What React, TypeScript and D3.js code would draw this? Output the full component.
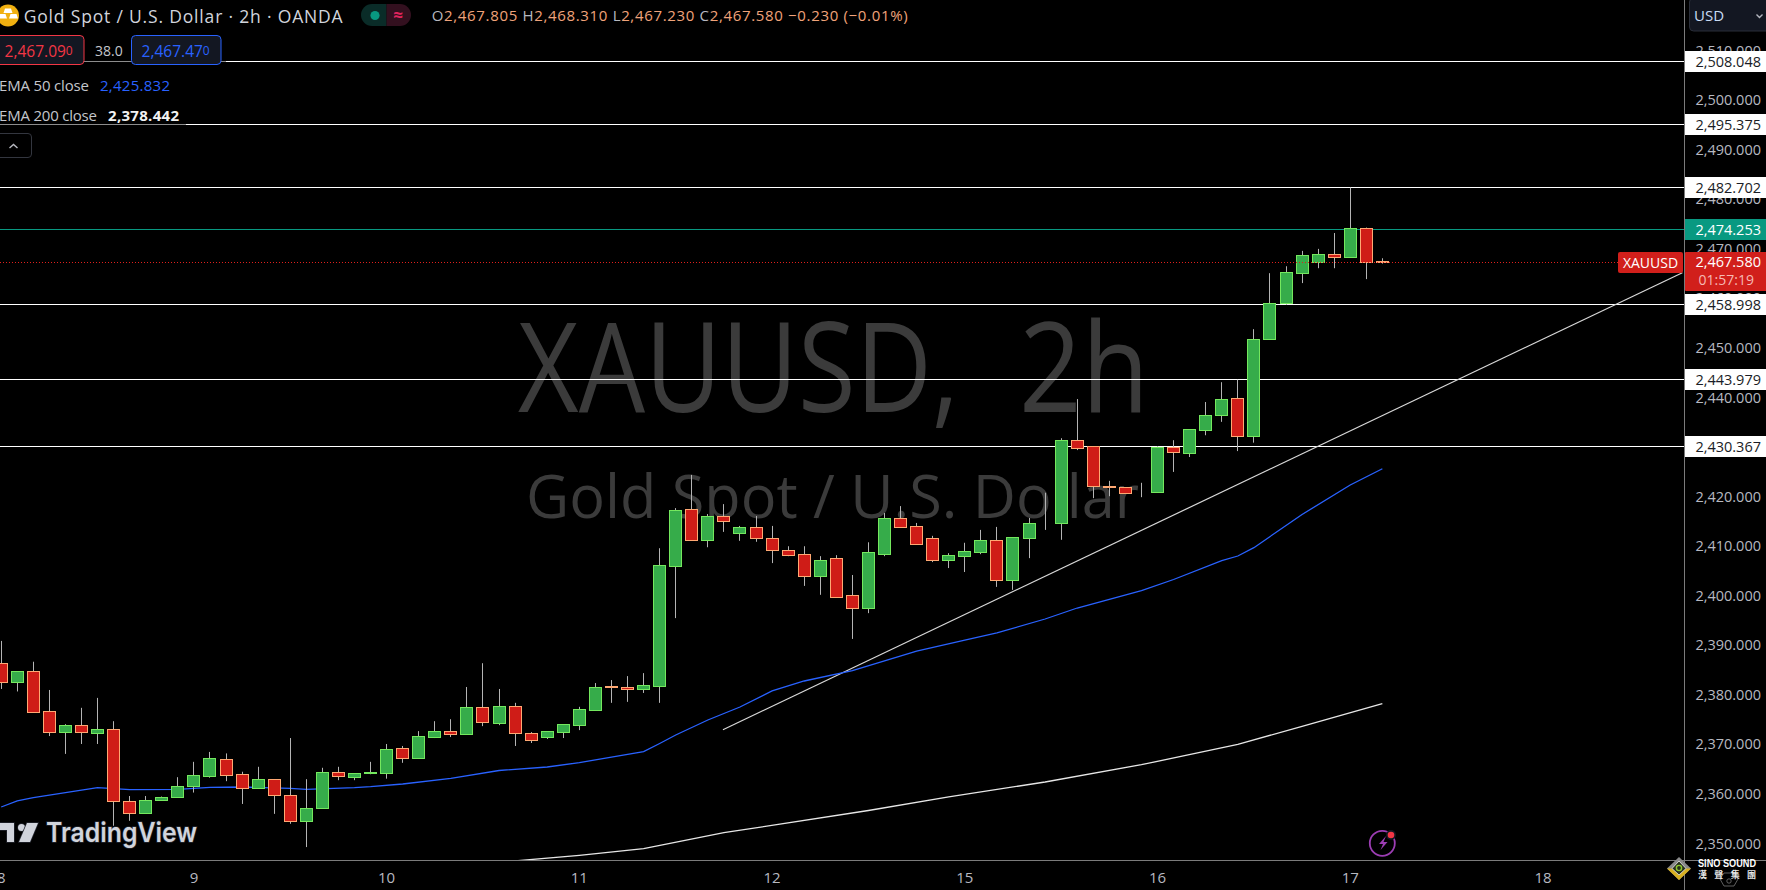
import React from "react";
import * as d3 from "d3";

const opens = [2386.6,2382.9,2385.0,2376.9,2372.8,2374.1,2372.6,2373.3,2358.7,2356.4,2358.9,2359.7,2361.9,2363.9,2367.2,2364.2,2361.5,2363.2,2360.1,2354.8,2357.4,2364.6,2363.7,2364.4,2364.5,2369.4,2367.5,2371.8,2372.9,2372.4,2377.7,2374.6,2377.9,2372.5,2371.8,2372.8,2374.2,2377.2,2382.0,2381.7,2381.3,2382.1,2406.3,2417.8,2411.5,2416.4,2412.9,2414.0,2411.8,2409.4,2408.6,2404.1,2407.8,2400.3,2397.8,2408.7,2415.8,2414.2,2411.8,2407.5,2408.3,2409.1,2411.4,2403.3,2411.9,2414.8,2414.8,2431.6,2430.4,2422.3,2422.1,2421.1,2421.2,2430.2,2429.1,2433.7,2436.6,2440.2,2432.5,2452.1,2459.2,2465.4,2467.6,2469.1,2468.6,2474.5,2467.805];
const highs = [2391.1,2385.0,2386.9,2381.2,2374.3,2377.6,2379.6,2374.9,2359.8,2359.8,2359.7,2363.6,2366.7,2368.7,2368.4,2364.7,2365.7,2363.2,2371.5,2363.2,2365.5,2365.7,2364.4,2366.7,2370.3,2369.9,2372.9,2374.9,2375.3,2381.8,2386.6,2381.4,2378.6,2372.7,2372.9,2374.3,2377.8,2382.6,2383.2,2384.0,2384.6,2409.8,2417.9,2424.6,2416.7,2418.7,2414.3,2416.3,2414.3,2410.2,2410.2,2408.2,2408.4,2404.4,2411.0,2416.9,2418.3,2414.9,2412.3,2408.8,2410.9,2413.5,2414.1,2412.0,2415.9,2421.0,2432.0,2439.9,2430.4,2423.4,2422.1,2423.0,2430.4,2431.6,2433.8,2439.3,2443.3,2443.8,2454.0,2465.3,2466.7,2469.8,2470.2,2473.4,2482.6,2474.5,2468.31];
const lows = [2381.4,2380.9,2376.8,2371.9,2368.3,2370.3,2370.3,2353.8,2354.8,2356.2,2358.9,2359.7,2360.5,2363.5,2362.8,2358.2,2361.5,2356.2,2354.2,2349.5,2357.4,2363.0,2363.0,2364.2,2363.3,2366.5,2367.3,2371.5,2371.7,2372.4,2373.9,2374.1,2369.9,2370.5,2371.3,2371.5,2373.1,2377.0,2378.6,2378.8,2380.6,2378.6,2395.7,2411.5,2410.0,2413.1,2411.3,2411.1,2406.8,2408.2,2402.2,2400.4,2400.0,2391.5,2396.7,2408.2,2413.9,2410.7,2407.0,2405.8,2405.0,2408.6,2402.0,2401.4,2407.8,2413.5,2411.5,2429.6,2419.9,2420.3,2421.0,2420.1,2421.2,2425.2,2428.2,2432.6,2435.3,2429.4,2431.1,2452.1,2458.9,2463.3,2466.3,2466.3,2468.6,2464.1,2467.23];
const closes = [2382.9,2385.0,2376.8,2372.8,2374.1,2372.8,2373.3,2358.7,2356.4,2359.1,2359.7,2361.8,2364.0,2367.4,2364.1,2361.5,2363.2,2360.1,2354.8,2357.3,2364.6,2363.9,2364.4,2364.6,2369.2,2367.5,2371.9,2372.9,2372.4,2377.7,2374.8,2377.9,2372.6,2371.2,2372.9,2374.3,2377.3,2381.9,2381.9,2381.3,2382.3,2406.4,2417.6,2411.5,2416.4,2415.2,2414.0,2411.9,2409.5,2408.5,2404.1,2407.4,2400.0,2397.8,2409.0,2415.8,2414.1,2410.7,2407.5,2408.4,2409.2,2411.4,2403.3,2412.0,2414.8,2414.9,2431.6,2430.1,2422.4,2422.2,2421.0,2421.2,2430.2,2429.3,2433.8,2436.6,2440.0,2432.5,2452.1,2459.2,2465.5,2468.9,2469.1,2468.6,2474.5,2467.6,2467.58];

const ema50Bars = [0,1,2,6,8,11,13,15,18,19,22,23,25,28,31,34,36,40,41,42,44,46,48,50,53,57,60,62,65,67,71,73,76,77,78,81,84,86];
const ema50Values = [2357.59,2358.8,2359.46,2361.48,2361.08,2361.16,2361.56,2361.62,2361.36,2361.16,2361.48,2361.68,2362.23,2363.38,2364.95,2365.66,2366.52,2368.75,2370.4,2372.12,2375.14,2377.76,2381.0,2383.01,2385.09,2389.06,2391.28,2392.7,2395.52,2397.74,2401.23,2403.49,2407.32,2408.23,2409.91,2416.61,2422.56,2425.832];
const ema200Bars = [32,36,40,45,54,59,65,71,77,81,86];
const ema200Values = [2346.71,2347.84,2349.17,2352.4,2356.88,2359.63,2362.63,2366.12,2370.22,2373.87,2378.442];
const trendBars = [44.94,104.68];
const trendValues = [2373.18,2465.4];

const priceTicks = [2510,2500,2490,2480,2470,2460,2450,2440,2430,2420,2410,2400,2390,2380,2370,2360,2350];
const whiteLevels = [2508.048,2495.375,2482.702,2458.998,2443.979,2430.367];
const tealLevel = 2474.253;
const lastPrice = 2467.58;
const dayLabels = ["8","9","10","11","12","15","16","17","18"];
const dayBars = [0,12,24,36,48,60,72,84,96];

const W = 1766, H = 890, AX = 1684.5, TY = 860.5;
const y = d3.scaleLinear().domain([2350, 2500]).range([844.6, 101.2]);
const x = d3.scaleLinear().domain([0, 12]).range([1.2, 193.92]);
const fmt = d3.format(",.3f");
const F = "'Open Sans', 'Noto Sans', sans-serif";
const line = d3.line<[number, number]>().x(d => x(d[0])).y(d => y(d[1]));
const ema50Path = line(ema50Bars.map((b, i) => [b, ema50Values[i]]))!;
const ema200Path = line(ema200Bars.map((b, i) => [b, ema200Values[i]]))!;
const trendPath = line(trendBars.map((b, i) => [b, trendValues[i]]))!;
const snap = (v: number) => Math.round(v - 0.5) + 0.5;
const snapY = (v: number) => Math.round(v) + 0.5;

function T(p: any) {
  const { children, ...r } = p;
  return <text fontFamily={F} {...r}>{children}</text>;
}

export default function App() {
  return (
    <svg width={W} height={H} viewBox={`0 0 ${W} ${H}`} style={{ position: "fixed", left: 0, top: 0, background: "#000" }}>
      <defs>
        <clipPath id="plot"><rect x={0} y={0} width={AX} height={TY} /></clipPath>
      </defs>
      <rect width={W} height={H} fill="#000" />

      {/* watermark */}
      <T x={518} y={412} fontSize={125} fill="#3b3b3b" textLength={441} lengthAdjust="spacingAndGlyphs">XAUUSD,</T>
      <T x={1019} y={412} fontSize={125} fill="#3b3b3b" textLength={130} lengthAdjust="spacingAndGlyphs">2h</T>
      <T x={526} y={518} fontSize={60} fill="#3b3b3b" textLength={613} lengthAdjust="spacingAndGlyphs">Gold Spot / U.S. Dollar</T>

      <g clipPath="url(#plot)">
        {/* horizontal levels */}
        {whiteLevels.map(l => (
          <line key={l} x1={0} x2={AX} y1={snapY(y(l))} y2={snapY(y(l))} stroke="#fff" strokeWidth={1.2} />
        ))}
        <line x1={0} x2={AX} y1={snapY(y(tealLevel))} y2={snapY(y(tealLevel))} stroke="#089981" strokeWidth={1} />
        <path d={trendPath} fill="none" stroke="#d8d8d8" strokeWidth={1.2} />
        <path d={ema50Path} fill="none" stroke="#2962ff" strokeWidth={1.3} />
        <path d={ema200Path} fill="none" stroke="#e6e6e6" strokeWidth={1.3} />

        {/* candles */}
        {closes.map((c, i) => {
          const o = opens[i];
          const up = c >= o;
          const cx = snap(x(i));
          const top = Math.round(y(Math.max(o, c))) + 0.5;
          const bot = Math.round(y(Math.min(o, c))) + 0.5;
          return (
            <g key={i}>
              <line x1={cx} x2={cx} y1={y(highs[i])} y2={y(lows[i])} stroke="#b4b4b4" strokeWidth={1} />
              <rect x={cx - 6} y={top} width={12} height={Math.max(bot - top, 0)}
                fill={up ? "#36ac4a" : "#cf1c17"} stroke={up ? "#74e85e" : "#ffa873"} strokeWidth={1} />
            </g>
          );
        })}
        <line x1={0} x2={1618} y1={snapY(y(lastPrice))} y2={snapY(y(lastPrice))} stroke="#e0201c" strokeWidth={1} strokeDasharray="1 2" />
      </g>

      {/* axes */}
      <line x1={AX} x2={AX} y1={0} y2={H} stroke="#7b7b7b" strokeWidth={1} />
      <line x1={0} x2={W} y1={TY} y2={TY} stroke="#7b7b7b" strokeWidth={1} />
      {priceTicks.map(t => (
        <T key={t} x={1761} y={y(t) + 4} fontSize={14.5} fill="#b7b9c0" textAnchor="end">{fmt(t)}</T>
      ))}
      {dayLabels.map((d, i) => (
        <T key={d} x={x(dayBars[i])} y={883} fontSize={15} fill="#b7b9c0" textAnchor="middle">{d}</T>
      ))}

      {/* price tags */}
      {whiteLevels.map(l => (
        <g key={l}>
          <rect x={AX + 0.5} y={snapY(y(l)) - 10.5} width={W - AX} height={21} fill="#fff" />
          <T x={1761} y={snapY(y(l)) + 5} fontSize={14.5} fill="#1a1d26" textAnchor="end">{fmt(l)}</T>
        </g>
      ))}
      <rect x={AX + 0.5} y={snapY(y(tealLevel)) - 10.5} width={W - AX} height={21} fill="#089981" />
      <T x={1761} y={snapY(y(tealLevel)) + 5} fontSize={14.5} fill="#fff" fontWeight={500} textAnchor="end">{fmt(tealLevel)}</T>
      <rect x={1618} y={252} width={65} height={21} rx={2} fill="#d11f1b" />
      <T x={1650.5} y={267.5} fontSize={14} fill="#fff" textAnchor="middle" fontWeight={500}>XAUUSD</T>
      <rect x={AX + 0.5} y={252} width={W - AX} height={39} rx={1} fill="#d11f1b" />
      <T x={1761} y={267} fontSize={14.5} fill="#fff" fontWeight={500} textAnchor="end">{fmt(lastPrice)}</T>
      <T x={1754} y={285} fontSize={14} fill="#f6b9b4" textAnchor="end">01:57:19</T>

      {/* USD button */}
      <rect x={1689.5} y={-2} width={90} height={33} rx={4} fill="#131722" stroke="#2a2e39" />
      <T x={1694} y={21} fontSize={15} fill="#c8dcf5">USD</T>
      <path d="M1756.5 14.5 l3 3 l3 -3" fill="none" stroke="#b2b5be" strokeWidth={1.4} />

      {/* header */}
      <circle cx={8} cy={15.5} r={11} fill="#f0b010" />
      <path d="M5 8.5h6l1.5 4.5h-9zM-0.5 14h6l1.5 4.5h-9zM10.5 14h6l1.5 4.5h-9z" fill="#fff" />
      <T x={23.7} y={22.7} fontSize={17.5} fill="#d1d4dc" textLength={319}>Gold Spot / U.S. Dollar · 2h · OANDA</T>
      <path d="M372 4a11 11 0 0 0 0 22h14.5V4z" fill="#0a2c28" />
      <path d="M386.5 4H400a11 11 0 0 1 0 22h-13.5z" fill="#33101f" />
      <circle cx={375} cy={15.5} r={4.6} fill="#089981" />
      <T x={398} y={21} fontSize={17} fill="#e0245e" textAnchor="middle" fontWeight={700}>≈</T>
      <T x={431.7} y={21} fontSize={15} fill="#f0a37a" textLength={476} xmlSpace="preserve">
        <tspan fill="#b7b9c0">O</tspan>2,467.805 <tspan fill="#b7b9c0">H</tspan>2,468.310 <tspan fill="#b7b9c0">L</tspan>2,467.230 <tspan fill="#b7b9c0">C</tspan>2,467.580 −0.230 (−0.01%)
      </T>

      {/* legend veils dim the level lines under the legend */}
      <rect x={0} y={34} width={226} height={31} fill="#000" fillOpacity={0.45} />
      <rect x={0} y={100} width={186} height={26} fill="#000" fillOpacity={0.45} />
      <rect x={-4} y={35.5} width={88} height={29} rx={4} fill="#131722" stroke="#f23645" />
      <T x={4.6} y={56.5} fontSize={15.5} fill="#f23645">2,467.09<tspan fontSize={12} dy={-2}>0</tspan></T>
      <T x={95} y={55.5} fontSize={14} fill="#c4c6cc">38.0</T>
      <rect x={131.5} y={35.5} width={89.5} height={29} rx={4} fill="#131722" stroke="#2962ff" />
      <T x={141.6} y={56.5} fontSize={15.5} fill="#2962ff">2,467.47<tspan fontSize={12} dy={-2}>0</tspan></T>
      <T x={-1} y={91} fontSize={15} fill="#c4c6cc" textLength={90}>EMA 50 close</T>
      <T x={100} y={91} fontSize={15} fill="#2962ff" textLength={70}>2,425.832</T>
      <T x={-1} y={121} fontSize={15} fill="#c4c6cc" textLength={98}>EMA 200 close</T>
      <T x={108} y={121} fontSize={15} fill="#f2f2f2" fontWeight={700} textLength={71}>2,378.442</T>
      <rect x={-6} y={133.5} width={37.5} height={24} rx={3.5} fill="#000" stroke="#33363f" />
      <path d="M9.5 148l4 -3.5l4 3.5" fill="none" stroke="#b7b9c0" strokeWidth={1.4} />

      {/* TradingView logo */}
      <g fill="#d1d4dc" stroke="#23262f" strokeWidth={1.5} paintOrder="stroke">
        <path d="M-2 823H14V842H7V830H-2z" />
        <circle cx={21.5} cy={827.5} r={3.5} />
        <path d="M27 823H38L30 842H19z" />
        <text x={46} y={842} fontFamily="Inter, Roboto, sans-serif" fontSize={27} fontWeight={600} textLength={151} lengthAdjust="spacingAndGlyphs">TradingView</text>
      </g>

      {/* bolt icon */}
      <circle cx={1382.3} cy={843.3} r={12.5} fill="#000" stroke="#9c3db3" strokeWidth={1.8} />
      <path d="M1386 836l-7 8h4l-2.5 6l7 -8h-4z" fill="#9c3db3" />
      <circle cx={1391} cy={835} r={5} fill="#131722" />
      <circle cx={1391} cy={835} r={3.3} fill="#f23645" />

      {/* Sino Sound mark */}
      <path d="M1679 857L1691 868.5L1679 880L1667 868.5z" fill="#8a8a8a" />
      <path d="M1667 868.5L1679 880L1691 868.5L1686 868.5L1679 875L1672 868.5z" fill="#d8b020" />
      <path d="M1679 861L1686 868.5L1679 875L1672 868.5z" fill="#26301a" stroke="#e8e8e8" strokeWidth={0.8} />
      <circle cx={1679} cy={868} r={2.6} fill="none" stroke="#8fc92e" strokeWidth={1.4} />
      <path d="M1724 873h11l3 6l-4 7h-10l-4 -7z" fill="none" stroke="#777" strokeWidth={0.8} />
      <circle cx={1729} cy={881} r={2.2} fill="none" stroke="#777" strokeWidth={0.8} />
      <text x={1698} y={867} fontFamily="Liberation Sans, Arial, sans-serif" fontSize={10.5} fontWeight={700} fill="#fff" textLength={58} lengthAdjust="spacingAndGlyphs">SINO SOUND</text>
      <text x={1698} y={877.5} fontFamily="'Noto Sans CJK TC', sans-serif" fontSize={9} fontWeight={700} fill="#e8e8e8" textLength={58}>漢聲集團</text>
    </svg>
  );
}
